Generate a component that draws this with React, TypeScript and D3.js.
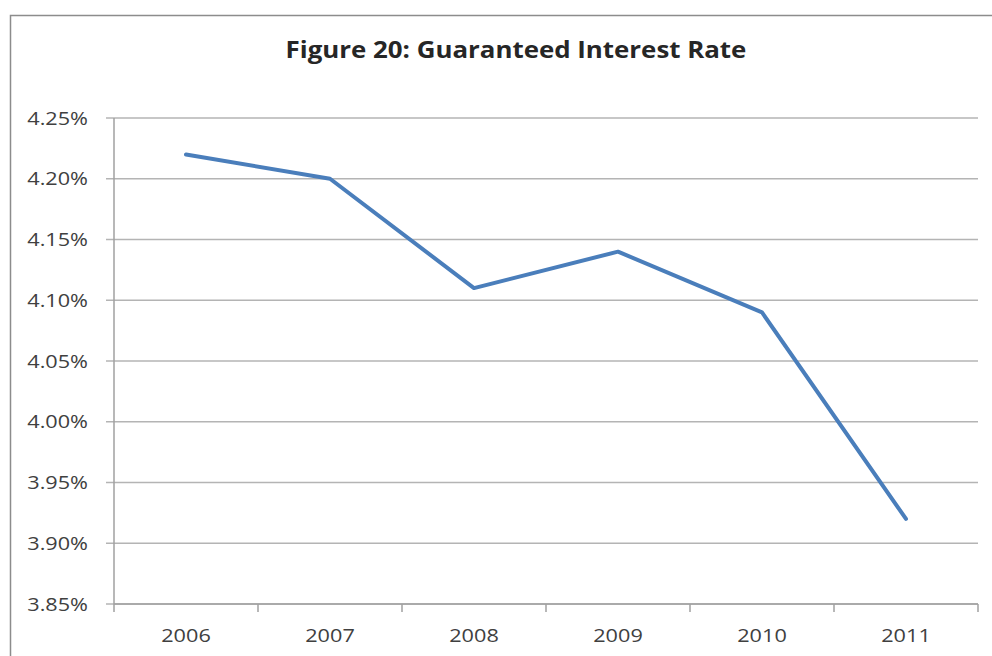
import React from "react";
import * as d3 from "d3";

const years = ["2006", "2007", "2008", "2009", "2010", "2011"];
const rates = [4.22, 4.2, 4.11, 4.14, 4.09, 3.92];
const yTicks = [3.85, 3.9, 3.95, 4.0, 4.05, 4.1, 4.15, 4.2, 4.25];
const title = "Figure 20: Guaranteed Interest Rate";

const W = 992;
const H = 656;
const left = 114;
const right = 978;
const top = 118;
const bottom = 604;
const SX = 1.14;
const FONT = "'Open Sans', 'Noto Sans', sans-serif";

export default function App() {
  const x = d3.scaleBand<string>().domain(years).range([left, right]).padding(0);
  const y = d3.scaleLinear().domain([3.85, 4.25]).range([bottom, top]);
  const line = d3
    .line<number>()
    .x((_, i) => (x(years[i]) as number) + x.bandwidth() / 2)
    .y((d) => y(d));
  const boundaries = years.map((yr) => x(yr) as number).concat([right]);

  return (
    <svg
      width={W}
      height={H}
      style={{ position: "fixed", left: 0, top: 0, background: "#fff" }}
    >
      <rect x={0} y={0} width={W} height={H} fill="#fff" />
      <rect x={10.5} y={15.5} width={1000} height={800} fill="#fff" stroke="#8c8c8c" strokeWidth={1.5} />
      <text
        transform={`translate(516,57.5) scale(1.15,1)`}
        textAnchor="middle"
        fontFamily={FONT}
        fontWeight="bold"
        fontSize={22.5}
        fill="#262626"
      >
        {title}
      </text>
      {yTicks.map((t) => (
        <g key={t}>
          <line x1={left - 8} x2={right} y1={y(t)} y2={y(t)} stroke="#b4b4b4" strokeWidth={1.5} />
          <text
            transform={`translate(88,${y(t) + 6.5}) scale(${SX},1)`}
            textAnchor="end"
            fontFamily={FONT}
            fontSize={19}
            fill="#404040"
          >
            {d3.format(".2f")(t) + "%"}
          </text>
        </g>
      ))}
      <line x1={left} x2={left} y1={top} y2={bottom} stroke="#a0a0a0" strokeWidth={1.5} />
      <line x1={left} x2={right} y1={bottom} y2={bottom} stroke="#a0a0a0" strokeWidth={1.5} />
      {boundaries.map((b, i) => (
        <line key={i} x1={b} x2={b} y1={bottom} y2={bottom + 8} stroke="#a0a0a0" strokeWidth={1.5} />
      ))}
      {years.map((yr) => (
        <text
          key={yr}
          transform={`translate(${(x(yr) as number) + x.bandwidth() / 2},641.5) scale(${SX},1)`}
          textAnchor="middle"
          fontFamily={FONT}
          fontSize={19}
          fill="#404040"
        >
          {yr}
        </text>
      ))}
      <path
        d={line(rates) || ""}
        fill="none"
        stroke="#4a7ebb"
        strokeWidth={4}
        strokeLinejoin="round"
        strokeLinecap="round"
      />
    </svg>
  );
}
